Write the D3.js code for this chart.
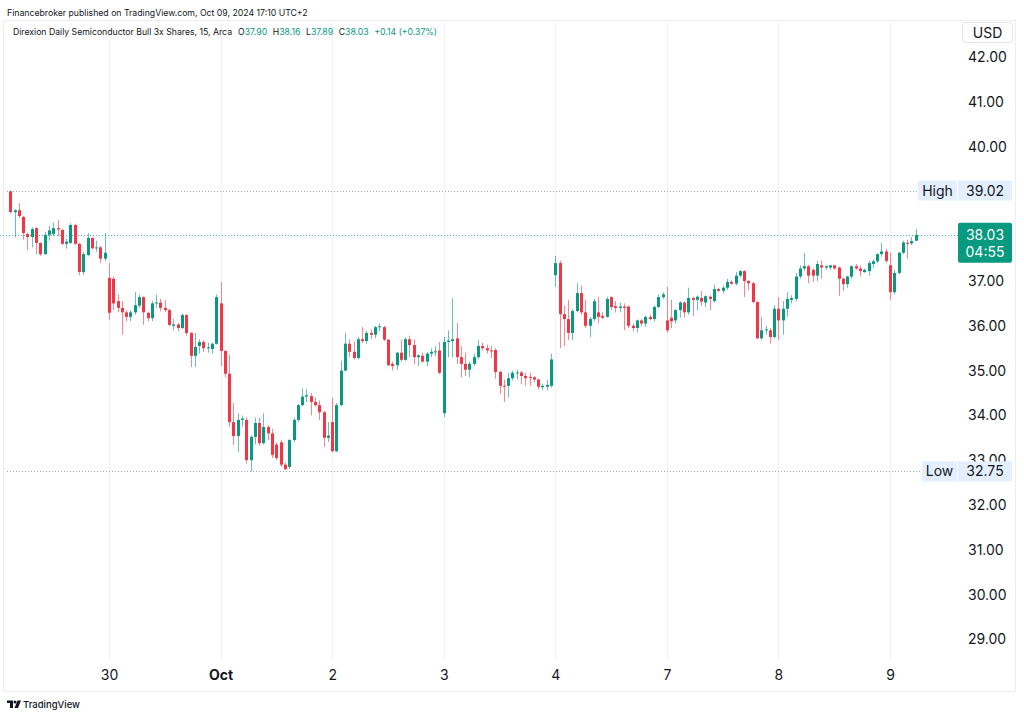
<!DOCTYPE html>
<html>
<head>
<meta charset="utf-8">
<script src="https://cdnjs.cloudflare.com/ajax/libs/d3/7.8.5/d3.min.js"></script>
<style>
  body { margin: 0; background: #fff; }
  svg { display: block; font-family: Inter, "Noto Sans", sans-serif; }
</style>
</head>
<body>
<div id="chart"></div>
<script>
// 15 minute candles, Sep 27 (partial) .. Oct 9 (partial)
const dayLabels = ["30", "Oct", "2", "3", "4", "7", "8", "9"];
const dayStarts = [23, 49, 75, 101, 127, 153, 179, 205];
// 38.00 and 39.00 sit under the price labels, so they are not shown
const priceTicks = [29, 30, 31, 32, 33, 34, 35, 36, 37, 40, 41, 42];

const openVals = [
  // Sep 27
  39.00, 38.54, 38.58, 38.43, 38.05, 37.98, 38.18, 37.85, 37.60, 38.03, 38.05, 38.18, 38.14, 37.83, 37.85, 38.25, 37.83, 37.20, 37.58, 37.96, 37.73, 37.75, 37.50,
  // Sep 30
  37.07, 37.05, 36.55, 36.40, 36.30, 36.20, 36.30, 36.45, 36.64, 36.29, 36.17, 36.50, 36.52, 36.40, 36.35, 36.00, 36.03, 35.95, 36.24, 35.84, 35.33, 35.55, 35.64, 35.50, 35.48, 35.60,
  // Oct 1
  36.50, 35.44, 34.93, 33.85, 33.54, 33.90, 33.90, 33.00, 33.52, 33.83, 33.38, 33.74, 33.60, 33.35, 33.40, 32.90, 32.85, 33.45, 33.90, 34.23, 34.42, 34.43, 34.30, 34.23, 34.07, 33.50,
  // Oct 2
  33.85, 33.20, 34.23, 35.00, 35.60, 35.42, 35.28, 35.70, 35.66, 35.84, 35.80, 35.97, 35.97, 35.69, 35.15, 35.12, 35.40, 35.24, 35.70, 35.57, 35.30, 35.33, 35.20, 35.38, 35.41, 35.45,
  // Oct 3
  34.05, 35.64, 35.66, 35.72, 35.30, 35.15, 35.02, 35.15, 35.30, 35.55, 35.50, 35.45, 35.46, 34.97, 34.66, 34.66, 34.83, 34.94, 34.96, 34.88, 34.86, 34.85, 34.80, 34.63, 34.64, 34.66,
  // Oct 4
  37.13, 37.40, 36.26, 36.15, 35.84, 36.33, 36.73, 36.30, 36.00, 36.15, 36.30, 36.22, 36.20, 36.64, 36.44, 36.40, 36.43, 36.43, 36.00, 35.95, 36.12, 36.05, 36.20, 36.15, 36.42, 36.64,
  // Oct 7
  36.12, 36.18, 36.12, 36.35, 36.52, 36.30, 36.62, 36.58, 36.62, 36.52, 36.65, 36.55, 36.82, 36.78, 36.85, 36.98, 36.94, 37.12, 37.22, 37.00, 36.95, 36.53, 35.72, 35.90, 35.90, 35.75,
  // Oct 8
  36.38, 36.12, 36.38, 36.58, 36.60, 37.10, 37.28, 37.33, 37.25, 37.12, 37.35, 37.30, 37.30, 37.35, 37.30, 37.05, 36.93, 37.10, 37.33, 37.28, 37.20, 37.22, 37.38, 37.44, 37.60, 37.66,
  // Oct 9
  37.35, 36.75, 37.18, 37.63, 37.85, 37.84, 37.90
];
const highVals = [
  39.02, 38.60, 38.74, 38.45, 38.08, 38.20, 38.20, 37.86, 38.10, 38.23, 38.30, 38.36, 38.16, 37.95, 38.29, 38.28, 37.85, 37.65, 38.07, 37.98, 37.90, 37.78, 38.07,
  37.40, 37.10, 36.70, 36.55, 36.35, 36.35, 36.75, 36.70, 36.66, 36.32, 36.55, 36.70, 36.60, 36.58, 36.38, 36.15, 36.06, 36.28, 36.26, 35.86, 35.84, 35.70, 35.68, 35.62, 35.62, 36.70,
  36.98, 35.45, 35.35, 34.27, 34.05, 34.00, 33.95, 33.55, 33.95, 33.95, 34.05, 33.78, 33.70, 33.40, 33.45, 32.95, 33.47, 33.95, 34.25, 34.60, 34.58, 34.50, 34.40, 34.33, 34.10, 33.85,
  34.40, 34.28, 35.22, 35.84, 35.70, 35.65, 35.75, 35.97, 35.88, 35.92, 36.00, 36.05, 36.00, 35.70, 35.20, 35.42, 35.68, 35.75, 35.78, 35.70, 35.36, 35.40, 35.42, 35.50, 35.55, 35.64,
  35.75, 35.90, 36.62, 36.06, 35.55, 35.40, 35.20, 35.38, 35.68, 35.62, 35.58, 35.55, 35.50, 35.00, 34.80, 34.95, 35.00, 35.02, 35.00, 34.95, 34.95, 34.88, 34.82, 34.70, 34.80, 35.38,
  37.56, 37.45, 36.45, 36.58, 36.38, 36.95, 36.90, 36.58, 36.20, 36.60, 36.65, 36.30, 36.65, 36.66, 36.55, 36.52, 36.50, 36.45, 36.05, 36.14, 36.15, 36.22, 36.25, 36.45, 36.70, 36.75,
  36.87, 36.58, 36.38, 36.55, 36.55, 36.85, 36.65, 36.68, 36.78, 36.68, 36.68, 36.92, 36.85, 36.90, 37.05, 37.02, 37.20, 37.24, 37.24, 37.02, 36.98, 36.55, 36.20, 36.00, 35.95, 36.45,
  36.64, 36.55, 36.75, 36.68, 37.18, 37.35, 37.63, 37.36, 37.28, 37.45, 37.46, 37.35, 37.36, 37.36, 37.32, 37.08, 37.12, 37.35, 37.38, 37.35, 37.28, 37.45, 37.48, 37.62, 37.85, 37.72,
  37.63, 37.25, 37.65, 37.90, 37.92, 37.98, 38.16
];
const lowVals = [
  38.50, 37.98, 38.40, 37.92, 37.69, 37.75, 37.60, 37.56, 37.58, 37.90, 38.00, 38.00, 37.80, 37.72, 37.83, 37.80, 37.13, 37.13, 37.55, 37.70, 37.65, 37.40, 37.44,
  36.13, 36.35, 36.30, 35.80, 36.10, 36.10, 36.25, 36.40, 36.02, 36.10, 36.10, 36.40, 36.32, 36.30, 36.00, 35.90, 35.88, 35.93, 35.78, 35.08, 35.08, 35.38, 35.42, 35.40, 35.38, 35.58,
  35.10, 34.85, 33.75, 33.34, 33.18, 33.75, 32.92, 32.75, 33.35, 33.32, 33.35, 33.45, 33.05, 33.00, 32.85, 32.78, 32.80, 33.40, 33.85, 34.20, 34.30, 34.00, 34.20, 33.90, 33.30, 33.40,
  33.18, 33.18, 34.20, 34.98, 35.30, 35.25, 35.25, 35.62, 35.60, 35.70, 35.72, 35.88, 35.66, 35.10, 35.00, 35.02, 35.20, 35.22, 35.30, 35.14, 35.10, 35.18, 35.10, 35.30, 35.32, 34.92,
  33.96, 35.30, 35.30, 35.15, 34.85, 34.88, 34.85, 35.10, 35.25, 35.45, 35.38, 35.28, 34.82, 34.48, 34.30, 34.40, 34.78, 34.80, 34.70, 34.66, 34.66, 34.75, 34.58, 34.56, 34.56, 34.62,
  36.87, 35.50, 35.55, 35.68, 35.68, 36.30, 36.25, 35.95, 35.75, 36.10, 36.05, 36.15, 36.18, 36.35, 36.30, 36.30, 35.90, 35.95, 35.88, 35.85, 36.00, 35.98, 36.12, 36.10, 36.40, 36.60,
  35.85, 35.95, 36.05, 36.18, 36.18, 36.25, 36.22, 36.35, 36.45, 36.42, 36.35, 36.52, 36.75, 36.72, 36.80, 36.92, 36.90, 37.08, 36.64, 36.80, 36.50, 35.70, 35.68, 35.80, 35.60, 35.72,
  35.68, 35.80, 36.20, 36.50, 36.55, 37.05, 37.22, 36.95, 36.98, 37.00, 37.05, 37.25, 37.25, 37.25, 36.67, 36.78, 36.85, 37.05, 37.25, 37.10, 37.18, 37.12, 37.30, 37.40, 37.55, 37.40,
  36.57, 36.70, 37.15, 37.60, 37.50, 37.80, 37.89
];
const closeVals = [
  38.54, 38.58, 38.45, 38.07, 37.98, 38.16, 37.85, 37.60, 38.03, 38.13, 38.18, 38.15, 37.83, 37.88, 38.25, 37.83, 37.20, 37.60, 37.96, 37.73, 37.75, 37.50, 37.63,
  36.29, 36.50, 36.40, 36.30, 36.20, 36.30, 36.46, 36.64, 36.30, 36.17, 36.50, 36.52, 36.40, 36.35, 36.02, 36.03, 35.95, 36.24, 35.84, 35.33, 35.53, 35.64, 35.50, 35.52, 35.60, 36.64,
  35.44, 34.93, 33.85, 33.54, 33.90, 33.93, 33.00, 33.52, 33.83, 33.38, 33.74, 33.60, 33.12, 33.05, 32.90, 32.80, 33.45, 33.90, 34.23, 34.42, 34.45, 34.30, 34.23, 34.07, 33.50, 33.55,
  33.20, 34.23, 35.00, 35.60, 35.42, 35.28, 35.70, 35.66, 35.84, 35.80, 35.97, 35.99, 35.69, 35.12, 35.10, 35.40, 35.24, 35.70, 35.57, 35.30, 35.34, 35.20, 35.38, 35.42, 35.43, 34.95,
  35.64, 35.67, 35.70, 35.30, 35.15, 35.02, 35.15, 35.30, 35.55, 35.50, 35.45, 35.44, 34.97, 34.66, 34.64, 34.83, 34.95, 34.96, 34.88, 34.83, 34.84, 34.80, 34.64, 34.66, 34.68, 35.25,
  37.40, 36.26, 36.15, 35.84, 36.33, 36.73, 36.30, 36.00, 36.15, 36.55, 36.20, 36.18, 36.60, 36.42, 36.40, 36.43, 36.40, 36.00, 35.95, 36.12, 36.05, 36.20, 36.15, 36.42, 36.64, 36.70,
  35.90, 36.10, 36.35, 36.52, 36.30, 36.62, 36.58, 36.65, 36.54, 36.66, 36.60, 36.82, 36.78, 36.85, 36.98, 36.94, 37.12, 37.22, 37.00, 36.95, 36.53, 35.72, 35.90, 35.92, 35.75, 36.38,
  36.12, 36.38, 36.60, 36.62, 37.10, 37.28, 37.33, 37.12, 37.12, 37.38, 37.30, 37.33, 37.35, 37.28, 37.05, 36.93, 37.10, 37.33, 37.28, 37.22, 37.25, 37.40, 37.44, 37.60, 37.66, 37.45,
  36.75, 37.18, 37.63, 37.86, 37.84, 37.89, 38.03
];

const upColor = "#089981", downColor = "#f23645", textColor = "#131722";
const width = 1024, height = 718;
const plotTop = 20, plotBottom = 660, plotRight = 958;

const svg = d3.select("#chart").append("svg")
  .attr("width", width)
  .attr("height", height);

const x = d3.scaleLinear()
  .domain([dayStarts[0], dayStarts[dayStarts.length - 1]])
  .range([109, 890]);
const y = d3.scaleLinear()
  .domain([29, 42])
  .range([639.4, 57]);

// frame
svg.append("rect")
  .attr("x", 3.5).attr("y", plotTop + 0.5)
  .attr("width", 1012).attr("height", 671)
  .attr("fill", "none")
  .attr("stroke", "#eceef2");

// vertical grid at session starts
svg.append("g").selectAll("line")
  .data(dayStarts)
  .join("line")
  .attr("x1", d => Math.round(x(d)) + 0.5)
  .attr("x2", d => Math.round(x(d)) + 0.5)
  .attr("y1", plotTop + 1)
  .attr("y2", plotBottom)
  .attr("stroke", "#f2f3f6");

const candles = d3.range(openVals.length).map(i => ({
  i: i, o: openVals[i], h: highVals[i], l: lowVals[i], c: closeVals[i]
}));

const hi = d3.max(highVals), lo = d3.min(lowVals);
const last = candles[candles.length - 1];
const prev = candles[candles.length - 2];

// high / low / last price lines
svg.append("line")
  .attr("x1", 7).attr("x2", 918)
  .attr("y1", Math.round(y(hi)) + 0.5).attr("y2", Math.round(y(hi)) + 0.5)
  .attr("stroke", "#a3a6af").attr("stroke-dasharray", "1,2");
svg.append("line")
  .attr("x1", 7).attr("x2", 922)
  .attr("y1", Math.round(y(lo)) + 0.5).attr("y2", Math.round(y(lo)) + 0.5)
  .attr("stroke", "#a3a6af").attr("stroke-dasharray", "1,2");
svg.append("line")
  .attr("x1", 0).attr("x2", plotRight)
  .attr("y1", Math.round(y(last.c)) + 0.5).attr("y2", Math.round(y(last.c)) + 0.5)
  .attr("stroke", upColor).attr("stroke-opacity", 0.75).attr("stroke-dasharray", "1,2");

const cg = svg.append("g");
cg.selectAll("line")
  .data(candles)
  .join("line")
  .attr("x1", d => Math.round(x(d.i)) + 0.5)
  .attr("x2", d => Math.round(x(d.i)) + 0.5)
  .attr("y1", d => y(d.h))
  .attr("y2", d => y(d.l))
  .attr("stroke", d => d.c >= d.o ? upColor : downColor)
  .attr("stroke-opacity", 0.6);
cg.selectAll("rect")
  .data(candles)
  .join("rect")
  .attr("x", d => Math.round(x(d.i)) - 1)
  .attr("width", 3)
  .attr("y", d => y(Math.max(d.o, d.c)))
  .attr("height", d => Math.max(1, Math.abs(y(d.o) - y(d.c))))
  .attr("fill", d => d.c >= d.o ? upColor : downColor);

// price scale
const yAxis = svg.append("g")
  .attr("transform", "translate(962,0)")
  .call(d3.axisRight(y).tickValues(priceTicks).tickSize(0).tickPadding(6).tickFormat(d3.format(".2f")));
yAxis.select(".domain").remove();
yAxis.selectAll("text")
  .attr("fill", textColor)
  .style("font-size", "14px")
  .style("font-family", "Inter, 'Noto Sans', sans-serif");

// time scale
const xAxis = svg.append("g")
  .attr("transform", "translate(0," + (plotBottom + 6) + ")")
  .call(d3.axisBottom(x).tickValues(dayStarts).tickSize(0).tickPadding(4)
    .tickFormat((d, i) => dayLabels[i]));
xAxis.select(".domain").remove();
xAxis.selectAll("text")
  .attr("fill", textColor)
  .style("font-size", "14px")
  .style("font-family", "Inter, 'Noto Sans', sans-serif")
  .style("font-weight", d => d === dayStarts[1] ? 700 : 400);

// USD box
svg.append("rect")
  .attr("x", 962.5).attr("y", 22.5).attr("width", 50).attr("height", 20).attr("rx", 3)
  .attr("fill", "#fff").attr("stroke", "#e0e3eb");
svg.append("text")
  .attr("x", 987.5).attr("y", 37.5)
  .attr("text-anchor", "middle")
  .style("font-size", "14px").attr("fill", textColor)
  .text("USD");

// High / Low labels
function levelLabel(name, val, left) {
  const yy = y(val);
  svg.append("rect")
    .attr("x", left).attr("y", yy - 10).attr("width", 957 - left).attr("height", 20)
    .attr("fill", "#e3effd");
  svg.append("rect")
    .attr("x", 958).attr("y", yy - 10).attr("width", 54).attr("height", 20)
    .attr("fill", "#e3effd");
  svg.append("text")
    .attr("x", (left + 957) / 2).attr("y", yy + 5)
    .attr("text-anchor", "middle")
    .style("font-size", "14px").attr("fill", textColor)
    .text(name);
  svg.append("text")
    .attr("x", 985).attr("y", yy + 5)
    .attr("text-anchor", "middle")
    .style("font-size", "14px").attr("fill", textColor)
    .text(d3.format(".2f")(val));
}
levelLabel("High", hi, 918);
levelLabel("Low", lo, 922);

// last price label
const ly = y(last.c);
svg.append("rect")
  .attr("x", 958).attr("y", ly - 12).attr("width", 54).attr("height", 40).attr("rx", 2)
  .attr("fill", upColor);
svg.append("text")
  .attr("x", 985).attr("y", ly + 5)
  .attr("text-anchor", "middle")
  .style("font-size", "14px").attr("fill", "#fff")
  .text(d3.format(".2f")(last.c));
svg.append("text")
  .attr("x", 985).attr("y", ly + 22)
  .attr("text-anchor", "middle")
  .style("font-size", "14px").attr("fill", "#fff")
  .text("04:55");

// fit a text element to a target width
function fitWidth(sel, target) {
  for (let k = 0; k < 3; k++) {
    const w = sel.node().getComputedTextLength();
    const fs = parseFloat(sel.style("font-size"));
    sel.style("font-size", (fs * target / w) + "px");
  }
}

const header = svg.append("text")
  .attr("x", 7).attr("y", 16)
  .style("font-size", "10px").attr("fill", textColor)
  .text("Financebroker published on TradingView.com, Oct 09, 2024 17:10 UTC+2");
fitWidth(header, 300);

const legendName = svg.append("text")
  .attr("x", 13).attr("y", 35)
  .style("font-size", "10px").attr("fill", textColor)
  .text("Direxion Daily Semiconductor Bull 3x Shares, 15, Arca");
fitWidth(legendName, 219);
const legendSize = legendName.style("font-size");

// OHLC values: same size as the name, gaps stretched to fill the row
const fmt = d3.format(".2f");
const legendVals = svg.append("text")
  .attr("x", 238).attr("y", 35)
  .style("font-size", legendSize).attr("fill", textColor);
const gaps = [];
[["O", last.o], ["H", last.h], ["L", last.l], ["C", last.c]].forEach((p, k) => {
  const t = legendVals.append("tspan").text(p[0]);
  if (k) gaps.push(t);
  legendVals.append("tspan").attr("fill", upColor).text(fmt(p[1]));
});
const chg = last.c - prev.c;
gaps.push(legendVals.append("tspan").attr("fill", upColor)
  .text("+" + fmt(chg) + " (+" + fmt(chg / prev.c * 100) + "%)"));
const gap = Math.max(3, (199 - legendVals.node().getComputedTextLength()) / gaps.length);
gaps.forEach(t => t.attr("dx", gap));

// footer logo
const logo = svg.append("g").attr("fill", textColor);
logo.append("path").attr("d", "M7 700.5h6v7.5h-3v-5h-3z");
logo.append("circle").attr("cx", 15).attr("cy", 702).attr("r", 1.5);
logo.append("path").attr("d", "M17.5 700.5h3.5l-3 7.5h-3.5z");
svg.append("text")
  .attr("x", 23).attr("y", 708)
  .style("font-size", "9.5px").style("font-weight", 500).attr("fill", textColor)
  .text("TradingView");
</script>
</body>
</html>
